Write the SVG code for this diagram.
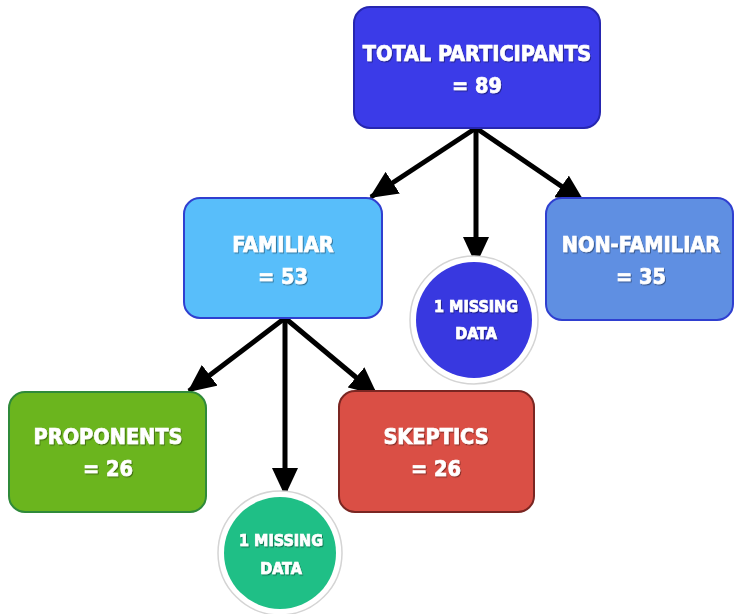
<svg xmlns="http://www.w3.org/2000/svg" width="735" height="614" viewBox="0 0 735 614">
<defs>
<marker id="ah" markerUnits="userSpaceOnUse" markerWidth="28" markerHeight="26" refX="26" refY="13" orient="auto">
<path d="M0,0 L28,13 L0,26 Z" fill="#000"/>
</marker>
<filter id="ts" x="-10%" y="-20%" width="120%" height="150%">
<feDropShadow dx="1" dy="1.2" stdDeviation="0.7" flood-color="#000" flood-opacity="0.4"/>
</filter>
</defs>
<style>
.t{font-family:"DejaVu Sans Condensed","DejaVu Sans","Liberation Sans",sans-serif;font-stretch:condensed;font-weight:bold;fill:#fff;stroke:#fff;stroke-width:0.7;text-anchor:middle;filter:url(#ts)}
.big{font-size:21.5px}
.sm{font-size:16px}
.c{stroke:#000;stroke-width:5;fill:none;marker-end:url(#ah)}
.ring{fill:#fff;stroke:#d4d4d4;stroke-width:1.5}
</style>
<rect width="735" height="614" fill="#fff"/>
<g id="connectors">
<line class="c" x1="476" y1="128" x2="371" y2="197"/>
<line class="c" x1="476" y1="128" x2="476" y2="263"/>
<line class="c" x1="476" y1="128" x2="583" y2="201"/>
<line class="c" x1="285" y1="318" x2="189" y2="391"/>
<line class="c" x1="285" y1="318" x2="285" y2="494"/>
<line class="c" x1="285" y1="318" x2="376" y2="394"/>
</g>
<g id="total">
<rect x="354" y="7" width="246" height="121" rx="16" fill="#3b3be8" stroke="#2626b0" stroke-width="2"/>
<text class="t big" x="477" y="61">TOTAL PARTICIPANTS</text>
<text class="t big" x="477" y="93">= 89</text>
</g>
<g id="familiar">
<rect x="184" y="198" width="198" height="120" rx="16" fill="#58befa" stroke="#2f3fd0" stroke-width="2"/>
<text class="t big" x="283" y="252">FAMILIAR</text>
<text class="t big" x="283" y="284">= 53</text>
</g>
<g id="missing1">
<circle class="ring" cx="474" cy="320" r="64"/>
<circle cx="474" cy="320" r="58" fill="#3838e0"/>
<text class="t sm" x="476" y="312">1 MISSING</text>
<text class="t sm" x="476" y="339">DATA</text>
</g>
<g id="nonfamiliar">
<rect x="546" y="198" width="187" height="122" rx="16" fill="#5f8fe2" stroke="#2f3fd0" stroke-width="2"/>
<text class="t big" x="641" y="252">NON-FAMILIAR</text>
<text class="t big" x="641" y="284">= 35</text>
</g>
<g id="proponents">
<rect x="9" y="392" width="197" height="120" rx="16" fill="#6bb51e" stroke="#2f8a3a" stroke-width="2"/>
<text class="t big" x="108" y="444">PROPONENTS</text>
<text class="t big" x="108" y="476">= 26</text>
</g>
<g id="missing2">
<circle class="ring" cx="280" cy="553" r="62"/>
<circle cx="280" cy="553" r="56" fill="#1fbf86"/>
<text class="t sm" x="281" y="546">1 MISSING</text>
<text class="t sm" x="281" y="574">DATA</text>
</g>
<g id="skeptics">
<rect x="339" y="391" width="195" height="121" rx="16" fill="#da4f45" stroke="#7a2622" stroke-width="2"/>
<text class="t big" x="436" y="444">SKEPTICS</text>
<text class="t big" x="436" y="476">= 26</text>
</g>
</svg>
